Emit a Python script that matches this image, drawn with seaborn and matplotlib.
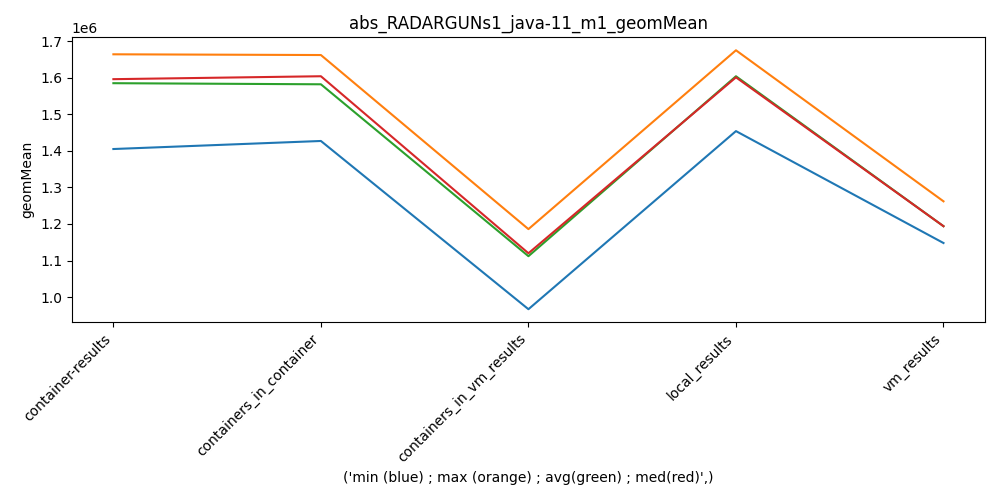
import matplotlib
matplotlib.use('Agg')
import matplotlib.pyplot as plt
import seaborn as sns
import pandas as pd

# Data
categories = ['container-results', 'containers_in_container', 'containers_in_vm_results',
              'local_results', 'vm_results']
min_vals = [1.405e6, 1.427e6, 0.967e6, 1.454e6, 1.148e6]
max_vals = [1.664e6, 1.662e6, 1.186e6, 1.675e6, 1.262e6]
avg_vals = [1.585e6, 1.582e6, 1.112e6, 1.604e6, 1.194e6]
med_vals = [1.596e6, 1.604e6, 1.120e6, 1.601e6, 1.194e6]

df = pd.DataFrame({'env': categories, 'min': min_vals, 'max': max_vals,
                   'avg': avg_vals, 'med': med_vals})

fig, ax = plt.subplots(figsize=(10, 5), dpi=100)
for col, color in zip(['min', 'max', 'avg', 'med'],
                      ['tab:blue', 'tab:orange', 'tab:green', 'tab:red']):
    sns.lineplot(data=df, x='env', y=col, color=color, ax=ax, sort=False)

ax.set_title('abs_RADARGUNs1_java-11_m1_geomMean')
ax.set_ylabel('geomMean')
ax.set_xlabel("('min (blue) ; max (orange) ; avg(green) ; med(red)',)")
plt.setp(ax.get_xticklabels(), rotation=45, ha='right')
plt.tight_layout()
plt.savefig('out.png', dpi=100)
